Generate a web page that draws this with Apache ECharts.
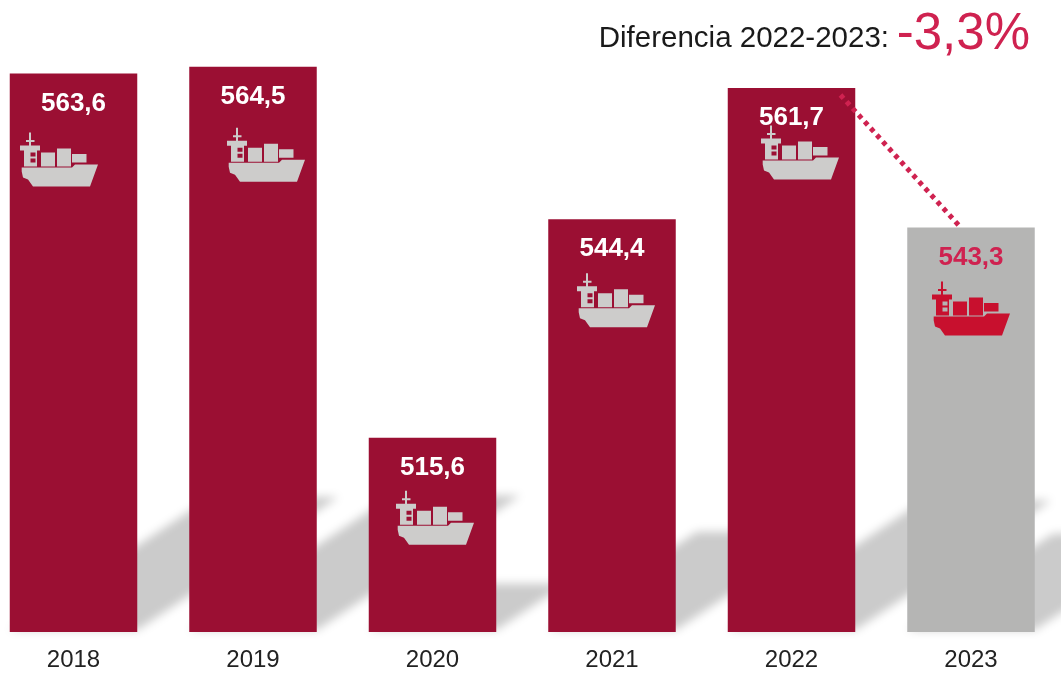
<!DOCTYPE html>
<html>
<head>
<meta charset="utf-8">
<style>html,body{margin:0;padding:0;background:#fff}#c{width:1061px;height:674px}</style>
<script src="https://cdn.jsdelivr.net/npm/echarts@6/dist/echarts.min.js"></script>
</head>
<body>
<div id="c"></div>
<script>
const categories = ['2018','2019','2020','2021','2022','2023'];
const totals = [563.6,564.5,515.6,544.4,561.7,543.3];
const noteLabel = 'Diferencia 2022-2023:';
const noteValue = '-3,3%';

// Layout only: where each ship icon sits relative to the top of its bar
const shipShiftX = [-14.5,13,2.5,4,8.5,0];
const shipShiftY = [86,88,80,81,64.5,81];

const FONT = '"Liberation Sans", Arial, sans-serif';
const WINE = '#9b0f33', GREY = '#b5b5b4', CRIMSON = '#cf2250', SHIP_RED = '#c8102e', SHIP_GREY = '#cdcccb';
const BAR_W = 127.5, BASE = 490, SHIP_W = 78, SHIP_H = 54;
const SHIP = 'M9 0H11V7.5H14.5V9.5H11V13H20V18H17V34H4V18H0V13H9V9.5H6V7.5H9Z'
 + 'M10.5 20V24H15.5V20ZM10.5 26V30H15.5V26Z'
 + 'M21 20H35V34H21ZM37 16H51V34H37ZM52 21.5H66.5V30H52Z'
 + 'M1.7 35H52L55 32H78L70 54H13L8 47L3 45L1.7 39Z';

const option = {
  animation: false,
  backgroundColor: '#fff',
  textStyle: {fontFamily: FONT},
  title: [
    {text: noteLabel, right: 167, top: 19, textStyle: {fontFamily: FONT, fontSize: 29.5, fontWeight: 'normal', color: '#1a1a1a'}},
    {text: noteValue, right: 26, top: 4, textStyle: {fontFamily: FONT, fontSize: 51, fontWeight: 'normal', color: CRIMSON}}
  ],
  grid: {left: -16.25, right: 0.25, top: 25, bottom: 42, outerBoundsMode: 'none'},
  xAxis: {
    type: 'category', data: categories,
    axisLine: {show: false}, axisTick: {show: false},
    axisLabel: {fontFamily: FONT, fontSize: 24, color: '#222', margin: 16}
  },
  yAxis: {type: 'value', min: BASE, max: 570, show: false},
  series: [
    { // soft cast shadows, scaled from each bar's own height
      type: 'custom', z: 1, silent: true,
      encode: {x: 0, y: 1},
      data: totals.map((v, i) => [i, v]),
      renderItem(params, api) {
        const top = api.coord([api.value(0), api.value(1)]);
        const base = api.coord([api.value(0), BASE]);
        const h = base[1] - top[1];
        const dx = h * 0.36, dy = h * 0.238, L = base[0] - BAR_W / 2, R = base[0] + BAR_W / 2, y = base[1] - 2;
        const OFF = 3000;
        return {
          type: 'polygon',
          shape: {points: [[L - OFF, y], [R - OFF, y], [R + dx - OFF, y - dy], [L + dx - OFF, y - dy]]},
          style: {fill: '#cdcdcd', shadowBlur: 10, shadowColor: '#cbcbcb', shadowOffsetX: OFF}
        };
      }
    },
    {
      type: 'bar', z: 2, barWidth: BAR_W,
      data: totals.map((v, i) => ({
        value: v,
        itemStyle: {color: i === 5 ? GREY : WINE},
        label: {color: i === 5 ? CRIMSON : '#fff'}
      })),
      label: {
        show: true, position: 'insideTop', distance: 17,
        fontFamily: FONT, fontSize: 26, fontWeight: 'bold',
        formatter: p => String(p.value).replace('.', ',')
      }
    },
    {
      type: 'custom', z: 3, silent: true,
      encode: {x: 0, y: 1},
      data: totals.map((v, i) => [i, v]),
      renderItem(params, api) {
        const i = api.value(0);
        const p = api.coord([i, api.value(1)]);
        return {
          type: 'path',
          shape: {
            pathData: SHIP, layout: 'cover',
            x: p[0] + shipShiftX[i] - SHIP_W / 2, y: p[1] + shipShiftY[i] - SHIP_H / 2,
            width: SHIP_W, height: SHIP_H
          },
          style: {fill: i === 5 ? SHIP_RED : SHIP_GREY}
        };
      }
    },
    { // dotted link between the last two bars
      type: 'custom', z: 4, silent: true,
      encode: {x: 0, y: 1},
      data: [[4, totals[4], 5, totals[5]]],
      renderItem(params, api) {
        const a = api.coord([api.value(0), api.value(1)]);
        const b = api.coord([api.value(2), api.value(3)]);
        return {
          type: 'line',
          shape: {x1: a[0] + 49, y1: a[1] + 7, x2: b[0] - 12, y2: b[1] - 2},
          style: {stroke: CRIMSON, lineWidth: 5, lineDash: [4.5, 4.5], fill: null}
        };
      }
    }
  ]
};
echarts.init(document.getElementById('c'), null, {renderer: 'canvas'}).setOption(option);
</script>
</body>
</html>
